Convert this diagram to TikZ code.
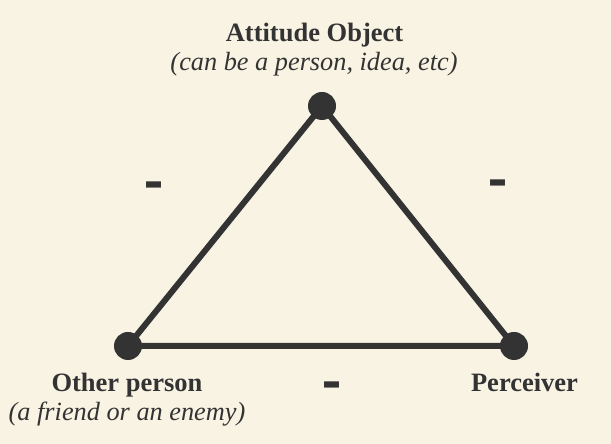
\documentclass[tikz,border=0pt]{standalone}
\usepackage{fontspec}
\setmainfont{Liberation Serif}
\newfontfamily\dashfont{DejaVu Sans}
\definecolor{bg}{HTML}{F8F3E3}
\definecolor{ink}{HTML}{333333}
\begin{document}
\begin{tikzpicture}[x=1pt,y=1pt,
  edge/.style={draw=ink,line width=6pt},
  dot/.style={circle,fill=ink,inner sep=0pt,minimum size=28pt},
  title/.style={text=ink,anchor=base,inner sep=0pt,font=\fontsize{26.5}{30}\selectfont\bfseries},
  sub/.style={text=ink,anchor=base,inner sep=0pt,font=\fontsize{26.3}{30}\selectfont\itshape},
  sign/.style={text=ink,inner sep=0pt,font=\fontsize{38}{38}\selectfont\dashfont\bfseries}]
\fill[bg] (0,0) rectangle (611,444);
\useasboundingbox (0,0) rectangle (611,444);
\coordinate (top) at (322,338);
\coordinate (left) at (128,98);
\coordinate (right) at (514,98);
\draw[edge,line join=round] (top) -- (left) -- (right) -- cycle;
\node[dot] (ntop) at (top) {};
\node[dot] (nleft) at (left) {};
\node[dot] (nright) at (right) {};
\node[title] (t1) at (314.5,402) {Attitude Object};
\node[sub] (t2) at (314,373) {(can be a person, idea, etc)};
\node[title] (l1) at (127,52) {Other person};
\node[sub] (l2) at (127,23) {(a friend or an enemy)};
\node[title] (r1) at (524.5,52) {Perceiver};
\node[sign] (m1) at (154,254) {\scalebox{1}[1.3]{–}};
\node[sign] (m2) at (498,256) {\scalebox{1}[1.3]{–}};
\node[sign] (m3) at (332,54) {\scalebox{1}[1.3]{–}};
\end{tikzpicture}
\end{document}
